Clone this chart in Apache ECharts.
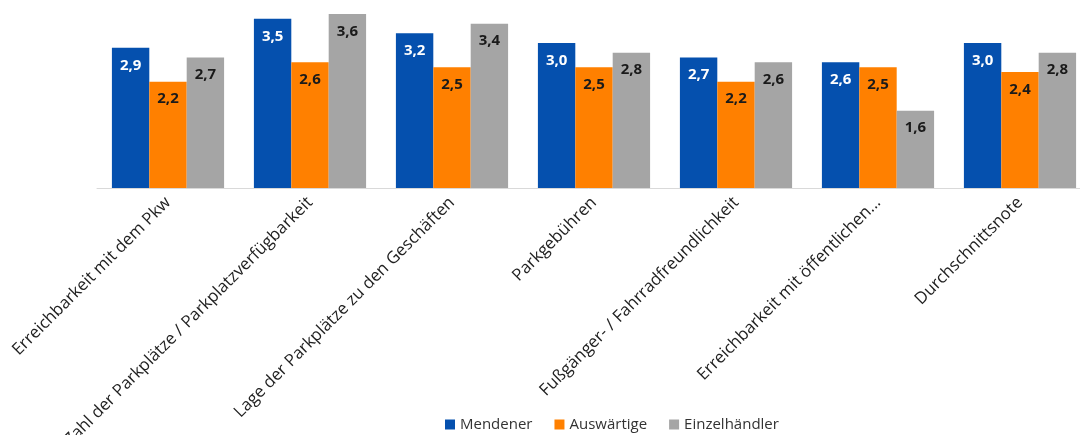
<!DOCTYPE html>
<html><head><meta charset="utf-8">
<script src="https://cdn.jsdelivr.net/npm/echarts@6/dist/echarts.min.js"></script>
<style>html,body{margin:0;padding:0;background:#fff}#c{width:1080px;height:435px}</style>
</head><body><div id="c"></div>
<script>
const categories = ["Erreichbarkeit mit dem Pkw","Zahl der Parkplätze / Parkplatzverfügbarkeit","Lage der Parkplätze zu den Geschäften","Parkgebühren","Fußgänger- / Fahrradfreundlichkeit","Erreichbarkeit mit öffentlichen...","Durchschnittsnote"];
const mendener = [2.9,3.5,3.2,3.0,2.7,2.6,3.0];
const auswaertige = [2.2,2.6,2.5,2.5,2.2,2.5,2.4];
const einzelhaendler = [2.7,3.6,3.4,2.8,2.6,1.6,2.8];
const seriesNames = ["Mendener","Auswärtige","Einzelhändler"];
const colors = ["#0550AE","#FF8000","#A5A5A5"];
const labelColors = ["#ffffff","#1a1a1a","#1a1a1a"];
const font = "'Open Sans', sans-serif";
const chart = echarts.init(document.getElementById('c'));
const mk = (name, data, i) => ({
  name, type:'bar', data, barGap:'0%', barCategoryGap:'21%',
  itemStyle:{color:colors[i]},
  label:{show:true, position:'insideTop', distance:10, color:labelColors[i], fontWeight:'bold', fontSize:15, fontFamily:font,
    formatter:p=>p.value.toFixed(1).replace('.',',')}
});
chart.setOption({
  animation:false,
  textStyle:{fontFamily:font},
  legend:{top:417, left:445, padding:0, itemWidth:10, itemHeight:10, itemGap:22, icon:'rect',
    textStyle:{fontSize:15, color:'#333', fontFamily:font}, data:seriesNames},
  grid:{left:97, width:994, top:14, bottom:247, outerBoundsMode:'none'},
  xAxis:{type:'category', data:categories,
    axisLine:{lineStyle:{color:'#D9D9D9'}}, axisTick:{show:false},
    axisLabel:{rotate:45, interval:0, margin:12, fontSize:16.8, color:'#222', fontFamily:font}},
  yAxis:{type:'value', min:0, max:3.6, show:false, splitLine:{show:false}},
  series:[mk(seriesNames[0],mendener,0), mk(seriesNames[1],auswaertige,1), mk(seriesNames[2],einzelhaendler,2)]
});
</script></body></html>
